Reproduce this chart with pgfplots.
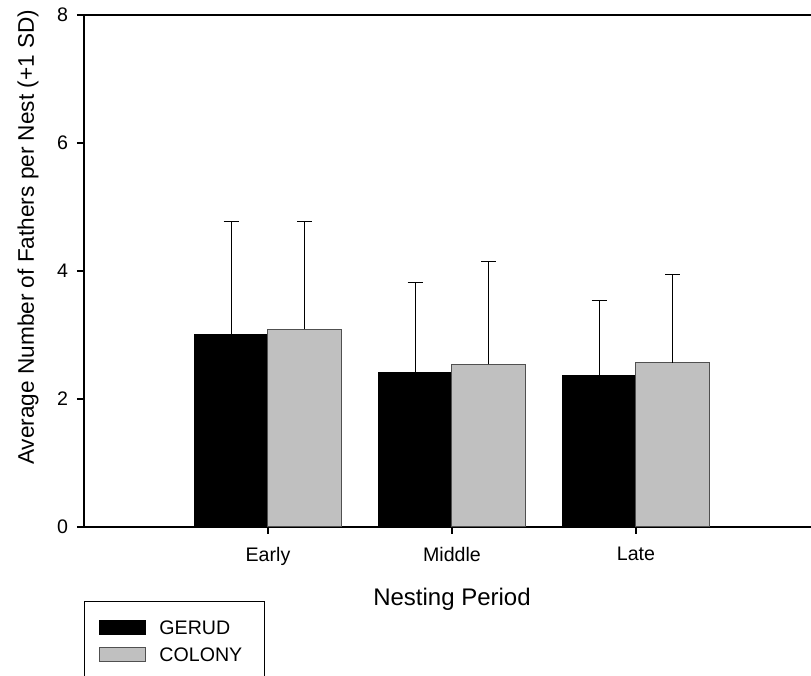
\documentclass[border=0pt]{standalone}
\usepackage{pgfplots}
\pgfplotsset{compat=1.18}
\usepackage{fontspec}
\setmainfont{Liberation Sans}
\definecolor{bargray}{RGB}{192,192,192}
\definecolor{edgegray}{RGB}{80,80,80}
\begin{document}
\begin{tikzpicture}
\useasboundingbox (0,0) rectangle (405.5pt,338pt);
\clip (0,0) rectangle (405.5pt,338pt);
\begin{axis}[
  at={(42pt,74.5pt)}, anchor=south west,
  scale only axis, width=368pt, height=256pt,
  xmin=0, xmax=4, ymin=0, ymax=8,
  xtick={1,2,3}, xticklabels={Early,Middle,Late},
  ytick={0,2,4,6,8},
  xtick pos=left, ytick pos=left,
  tick align=outside, major tick length=3.5pt,
  axis line style={line width=0.65pt},
  every tick/.style={black, line width=0.6pt},
  ybar=0pt, bar width=36.85pt,
  /pgf/number format/assume math mode=true,
  tick label style={font=\fontsize{9.8pt}{11pt}\selectfont},
  xticklabel style={yshift=-3pt},
  yticklabel style={xshift=-1pt},
  xlabel={Nesting Period},
  ylabel={Average Number of Fathers per Nest (+1 SD)},
  xlabel style={font=\fontsize{12pt}{14pt}\selectfont, at={(axis description cs:0.5,-0.1406)}, anchor=center},
  ylabel style={font=\fontsize{11.3pt}{13pt}\selectfont, at={(axis description cs:-0.0761,0.566)}, anchor=center},
  legend style={at={(axis description cs:0,-0.144)}, anchor=north west,
    draw=black, line width=0.5pt, inner xsep=7.5pt, inner ysep=9.15pt,
    font=\fontsize{9.8pt}{11pt}\selectfont, row sep=6pt,
    nodes={inner sep=0pt, text height=7pt, text depth=0pt},
    /tikz/every odd column/.append style={column sep=6.5pt}},
  legend cell align=left,
  legend image code/.code={\draw[#1] (0pt,-3.5pt) rectangle (23pt,3.5pt);},
  error bars/error bar style={line width=0.5pt, black},
  error bars/error mark options={rotate=90, mark size=3.75pt, line width=0.5pt, black},
]
\addplot[fill=black, draw=black, line width=0.5pt,
  error bars/.cd, y dir=plus, y explicit]
  coordinates {(1,3.01) +- (0,1.76) (2,2.42) +- (0,1.40) (3,2.36) +- (0,1.18)};
\addlegendentry{GERUD}
\addplot[fill=bargray, draw=edgegray, line width=0.5pt,
  error bars/.cd, y dir=plus, y explicit]
  coordinates {(1,3.09) +- (0,1.68) (2,2.54) +- (0,1.61) (3,2.57) +- (0,1.38)};
\addlegendentry{COLONY\hspace*{3.5pt}}
\end{axis}
\end{tikzpicture}
\end{document}
